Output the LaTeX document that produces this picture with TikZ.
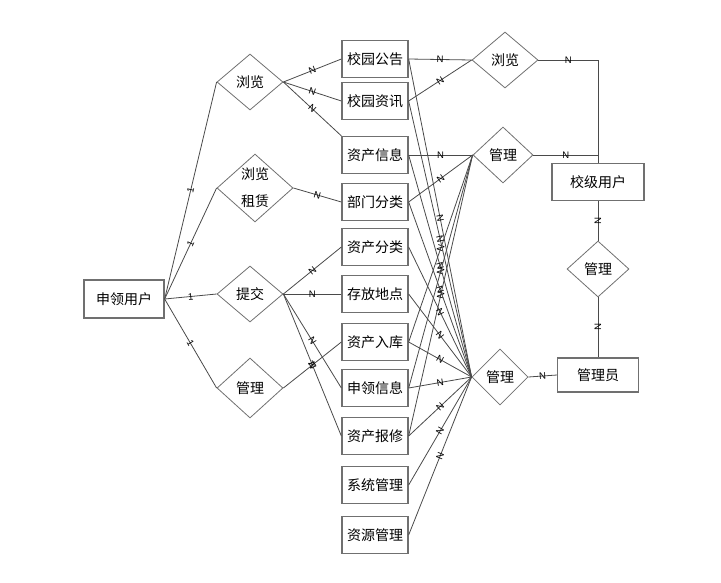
\documentclass[tikz,border=0pt]{standalone}
\usepackage{fontspec}
\setmainfont{Liberation Sans}
\newfontfamily\cjk{Noto Sans CJK SC}
\usepackage{tikz}
\usetikzlibrary{shapes.geometric}
\definecolor{lineGray}{HTML}{4A4A4A}
\definecolor{boxGray}{HTML}{707070}

\begin{document}
\begin{tikzpicture}[x=1pt, y=-1pt,
  ent/.style={draw=boxGray, line width=1.3pt, minimum width=66pt, minimum height=37pt,
    inner sep=1pt, font=\fontsize{14}{16}\selectfont\cjk},
  rel/.style={draw=boxGray, line width=0.8pt, diamond, inner sep=0pt,
    minimum width=66pt, minimum height=56pt, align=center,
    font=\fontsize{14}{27}\selectfont\cjk},
  conn/.style={draw=lineGray, line width=0.8pt},
  card/.style={font=\fontsize{9.5}{9.5}\selectfont, inner sep=0.5pt, sloped}]
\useasboundingbox (0,0) rectangle (721,582);

% entities
\node[ent, minimum width=80pt, minimum height=38pt] (sq) at (124,299) {申领用户};
\foreach \nm/\yy/\txt in {
  gg/59/校园公告, zx/101/校园资讯, zcxx/155/资产信息, bmfl/202/部门分类,
  zcfl/247/资产分类, cfdd/294/存放地点, zcrk/342/资产入库, slxx/388/申领信息,
  zcbx/436/资产报修, xtgl/485/系统管理, zygl/535/资源管理}
{
  \node[ent] (\nm) at (375,\yy) {\txt};
}
\node[ent, minimum width=92pt] (xj) at (598,182) {校级用户};
\node[ent, minimum width=81pt, minimum height=34pt] (gly) at (598,375) {管理员};

% relations
\node[rel] (lv1) at (250,82) {浏览};
\node[rel, minimum width=76pt, minimum height=64pt] (lvzl) at (255,188) {浏览\\租赁};
\node[rel] (tj) at (250,294) {提交};
\node[rel, minimum height=60pt] (gl1) at (250,388) {管理};
\node[rel] (lv2) at (505,60) {浏览};
\node[rel, minimum width=60pt] (gl2) at (503,155) {管理};
\node[rel, minimum width=62pt] (gl3) at (598,269) {管理};
\node[rel, minimum width=56pt] (gl4) at (500,377) {管理};

% 申领用户
\foreach \t in {lv1, lvzl, tj, gl1}
  \draw[conn] (sq.east) -- node[card]{1} (\t.west);

% left relations
\draw[conn] (lv1.east) -- node[card]{N} (gg.west);
\draw[conn] (lv1.east) -- node[card]{N} (zx.west);
\draw[conn] (lv1.east) -- node[card]{N} (zcxx.north west);
\draw[conn] (lvzl.east) -- node[card]{N} (bmfl.west);
\foreach \t in {zcfl, cfdd, slxx, zcbx}
  \draw[conn] (tj.east) -- node[card]{N} (\t.west);
\draw[conn] (gl1.east) -- node[card]{N} (zcrk.west);

% right relations
\foreach \s in {gg, zx}
  \draw[conn] (\s.east) -- node[card]{N} (lv2.west);
\foreach \s in {zcxx, bmfl, zcrk, slxx, zcbx}
  \draw[conn] (\s.east) -- node[card]{N} (gl2.west);
\foreach \s in {gg, zx, zcxx, bmfl, zcfl, cfdd, zcrk, slxx, zcbx, xtgl, zygl}
  \draw[conn] (\s.east) -- node[card]{N} (gl4.west);

\draw[conn] (lv2.east) -| node[card, pos=0.25]{N} (xj.north);
\draw[conn] (gl2.east) -- node[card]{N} (gl2.east -| xj.north);
\draw[conn] (xj.south) -- node[card]{N} (gl3.north);
\draw[conn] (gl3.south) -- node[card]{N} (gly.north);
\draw[conn] (gl4.east) -- node[card]{N} (gly.west);
\end{tikzpicture}
\end{document}
